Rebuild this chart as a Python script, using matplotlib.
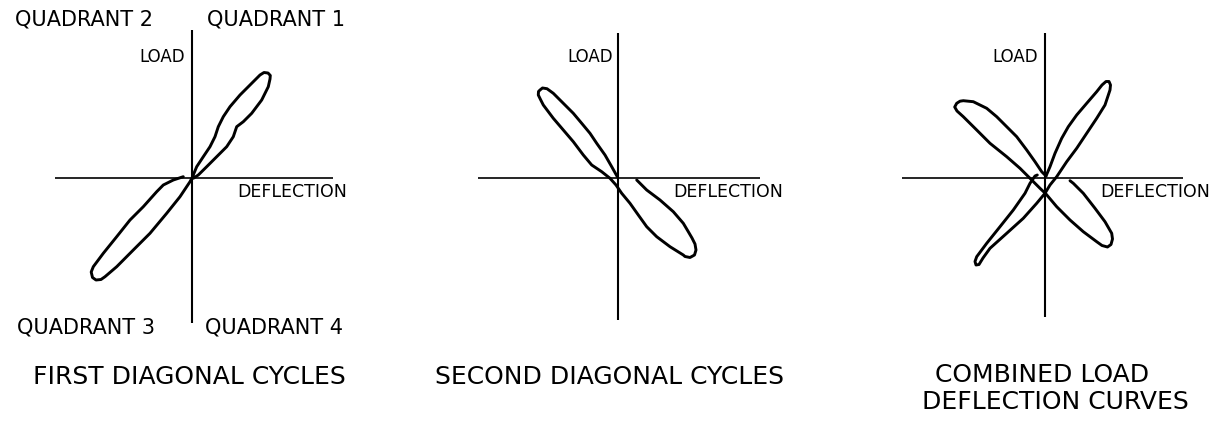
import matplotlib
matplotlib.use("Agg")
import matplotlib.pyplot as plt

W, H = 1225, 422

# load-deflection loop outlines, (deflection, load) in drawing units
first_defl = [-8.7, -18.7, -28.7, -35.3, -48.7, -62, -75.3, -88.7, -98.7, -100.8, -99.5, -96, -91, -87,
              -75.3, -58.7, -42, -25.3, -12, -2, 0,
              4.7, 11.3, 18, 23, 26.3, 31.3, 38, 48, 58, 68, 72, 76, 78.3, 78, 76.3, 69.7, 59.7, 51.3,
              44.7, 41.3, 34.7, 24.7, 14.7, 6.3, 1.3]
first_load = [1.3, -2, -7, -13.7, -28.7, -42, -58.7, -75.3, -88.7, -94, -99.5, -102, -101.5, -98.7,
              -88.7, -72, -55.3, -35.3, -18.7, -3.7, 0,
              11.3, 21.3, 31.3, 41.3, 51.3, 61.3, 71.3, 83, 93, 103, 105.5, 105, 102.5, 99, 91.3, 78, 64.7,
              56.3, 51.3, 41.3, 31.3, 21.3, 11.3, 3, -0.3]

second_defl = [18.7, 28.7, 42, 55.3, 65.3, 70.3, 74, 77, 78, 76.5, 72, 67, 65.3, 52, 38.7, 28.7, 20.3,
               12, 3.7, -2, -8, -16.3, -26.3, -34.7, -44.7, -54.7, -64.7, -74.7, -77.5, -79.7, -79.5,
               -78, -75.5, -71, -64.7, -54.7, -44.7, -36.3, -28, -21.3, -13, -6.3, -0.7]
second_load = [-2, -12, -22, -33.7, -45.3, -53.7, -60, -66, -72, -77, -79.5, -78.5, -77, -68.7, -58.7,
               -48.7, -37, -25.3, -15.3, -7, -0.3, 6.3, 13, 23, 36.3, 48, 59.7, 73, 78.5, 83, 86.5,
               88, 90, 89.3, 84.7, 74.7, 64.7, 54.7, 44.7, 34.7, 23, 11.3, 1.3]

comb1_defl = [-7.7, -10, -15, -20, -31.7, -45, -58.3, -68.3, -70, -69, -66, -62, -55, -38.3, -21.7,
              -8.3, 0, 5, 11.7, 21.7, 31.7, 41.7, 51.7, 60, 65, 65.5, 64, 61, 57, 51.7, 41.7, 31.7,
              23.3, 16.7, 10, 5, 1]
comb1_load = [3, 2, -5.3, -15.3, -32, -48.7, -65.3, -78.7, -83.5, -87, -86.5, -80, -70.3, -55.3, -40.3,
              -25.3, -15.3, -7, 1.3, 16.3, 29.7, 44.7, 59.7, 73, 88, 93, 96.5, 96.5, 93, 86.3, 74.7, 63,
              51.3, 39.7, 24.7, 11.3, 2]

comb2_defl = [25, 28.3, 38.3, 50, 60, 66.7, 67.5, 66, 62.5, 57, 51.7, 38.3, 25, 11.7, 1, -5, -15, -25,
              -38.3, -55, -68.3, -81.7, -88, -90.3, -88.3, -85, -81.7, -71.7, -58.3, -48.3, -38.3, -28.3,
              -18.3, -10, -3.3, 1]
comb2_load = [-2.7, -5.3, -15.3, -30.3, -43.7, -55.3, -61, -66.5, -69, -67.5, -63.7, -53.7, -42, -28.7,
              -16, -10.3, -0.3, 9.7, 21.3, 34.7, 48, 61.3, 67, 71, 74.7, 76.8, 77.3, 76.3, 69.7, 61.3,
              51.3, 41.3, 28, 16.3, 6.3, 2]

panel_titles = [["FIRST DIAGONAL CYCLES"], ["SECOND DIAGONAL CYCLES"],
                ["COMBINED LOAD", "DEFLECTION CURVES"]]
quadrant_labels = ["QUADRANT 1", "QUADRANT 2", "QUADRANT 3", "QUADRANT 4"]

# pixel origin of each panel and the reach of its axis lines
origins = [(192, 178), (618, 178), (1045, 178)]
xspan = [(-137, 141), (-140, 142), (-143, 138)]
yspan = [(-145, 148), (-142, 145), (-139, 145)]
load_right = [-7, -5, -7]
defl_left = [45, 55, 55]
title_pos = [[(-159, -199)], [(-183, -199)], [(-110, -197), (-123, -224)]]

loops = [[(first_defl, first_load)],
         [(second_defl, second_load)],
         [(comb1_defl, comb1_load), (comb2_defl, comb2_load)]]

fig = plt.figure(figsize=(W / 100, H / 100), dpi=100)
fig.patch.set_facecolor("white")
font = "DejaVu Sans"

for i, (ox, oy) in enumerate(origins):
    ax = fig.add_axes([(ox - 200) / W, (H - (oy + 240)) / H, 400 / W, 410 / H])
    ax.set_xlim(-200, 200)
    ax.set_ylim(-240, 170)
    ax.axis("off")

    ax.plot(xspan[i], [0, 0], color="black", lw=1.2, solid_capstyle="butt")
    ax.plot([0, 0], yspan[i], color="black", lw=1.5, solid_capstyle="butt")

    for dx, ld in loops[i]:
        ax.plot(dx, ld, color="black", lw=2.1, solid_joinstyle="round", solid_capstyle="round")

    ax.text(load_right[i], 121, "LOAD", ha="right", va="center", fontsize=12, family=font)
    ax.text(defl_left[i], -14, "DEFLECTION", ha="left", va="center", fontsize=12.5, family=font)

    for (tx, ty), line in zip(title_pos[i], panel_titles[i]):
        ax.text(tx, ty, line, ha="left", va="center", fontsize=18, family=font)

    if i == 0:
        quad_xy = [(15, 158), (-177, 158), (-175, -150), (13, -150)]
        for (qx, qy), lab in zip(quad_xy, quadrant_labels):
            ax.text(qx, qy, lab, ha="left", va="center", fontsize=15, family=font)

fig.savefig("out.png", dpi=100, facecolor="white")
